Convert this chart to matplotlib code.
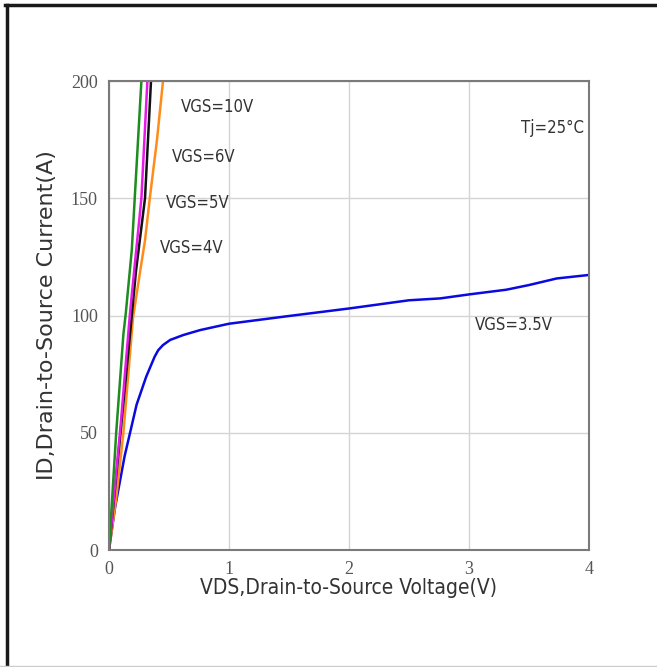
import matplotlib
matplotlib.use("Agg")
import matplotlib.pyplot as plt
from matplotlib.lines import Line2D

# Output characteristics, ID vs VDS at several gate voltages (Tj = 25 C)
vds_10v = [0, 0.06, 0.12, 0.14, 0.19, 0.27, 0.28]
id_10v = [0, 50, 92, 101, 128, 200, 207]

vds_6v = [0, 0.1, 0.175, 0.2, 0.27, 0.32, 0.33]
id_6v = [0, 55, 101, 114, 150, 200, 207]

vds_5v = [0, 0.1, 0.175, 0.225, 0.3, 0.35, 0.36]
id_5v = [0, 52, 92, 119, 150, 200, 207]

vds_4v = [0, 0.06, 0.12, 0.2, 0.26, 0.3, 0.34, 0.4, 0.45, 0.46]
id_4v = [0, 22, 50, 99, 119, 132, 150, 175, 200, 205]

vds_35v = [0, 0.05, 0.13, 0.23, 0.31, 0.38, 0.41, 0.45, 0.51, 0.62, 0.76, 1.0,
           1.5, 2.0, 2.5, 2.76, 3.0, 3.31, 3.5, 3.73, 4.0]
id_35v = [0, 18, 40, 62, 73.9, 82.4, 85.2, 87.4, 89.6, 91.7, 93.8, 96.5,
          99.8, 103, 106.5, 107.3, 109, 111, 113, 115.8, 117.3]

curves = [
    (vds_35v, id_35v, '#0a0ae0'),
    (vds_4v, id_4v, '#ff8c1a'),
    (vds_5v, id_5v, '#111111'),
    (vds_6v, id_6v, '#e619e6'),
    (vds_10v, id_10v, '#1e8c1e'),
]

curve_labels = ['VGS=10V', 'VGS=6V', 'VGS=5V', 'VGS=4V', 'VGS=3.5V']
label_x = [0.6, 0.525, 0.47, 0.425, 3.05]
label_y = [189, 167.5, 148, 129, 96]

x_ticks = [0, 1, 2, 3, 4]
y_ticks = [0, 50, 100, 150, 200]

fig = plt.figure(figsize=(6.57, 6.67), dpi=100)
ax = fig.add_axes([0.1659, 0.1754, 0.7306, 0.7031])

for vds, i_d, c in curves:
    ax.plot(vds, i_d, color=c, linewidth=1.8, solid_capstyle='round',
            solid_joinstyle='round')

ax.set_xlim(0, 4)
ax.set_ylim(0, 200)
ax.set_xticks(x_ticks)
ax.set_yticks(y_ticks)
ax.grid(True, color='#d4d4d4', linewidth=1.0)
ax.set_axisbelow(True)
for s in ax.spines.values():
    s.set_color('#7a7a7a')
    s.set_linewidth(1.5)
ax.tick_params(length=0, pad=8, colors='#555555')
for lab in ax.get_xticklabels() + ax.get_yticklabels():
    lab.set_fontfamily('Liberation Serif')
    lab.set_fontsize(13)

cond = dict(family='DejaVu Sans', stretch='condensed', color='#333333')
for t, x, y in zip(curve_labels, label_x, label_y):
    ax.text(x, y, t, fontsize=12, va='center', ha='left', **cond)
ax.text(3.96, 180, 'Tj=25\u00b0C', fontsize=12, va='center', ha='right', **cond)

ax.set_xlabel('VDS,Drain-to-Source Voltage(V)', fontsize=15, labelpad=0, **cond)
ax.set_ylabel('ID,Drain-to-Source Current(A)', fontsize=16, labelpad=10,
              family='DejaVu Sans', color='#333333')

# page border
fig.add_artist(Line2D([6.5 / 657, 6.5 / 657], [0, 662 / 667], color='#1a1a1a',
                      linewidth=2.5, transform=fig.transFigure))
fig.add_artist(Line2D([5 / 657, 1], [662.5 / 667, 662.5 / 667], color='#1a1a1a',
                      linewidth=2.5, transform=fig.transFigure))
fig.add_artist(Line2D([0, 1], [1.5 / 667, 1.5 / 667], color='#cccccc',
                      linewidth=1, transform=fig.transFigure))

fig.savefig('out.png', dpi=100)
